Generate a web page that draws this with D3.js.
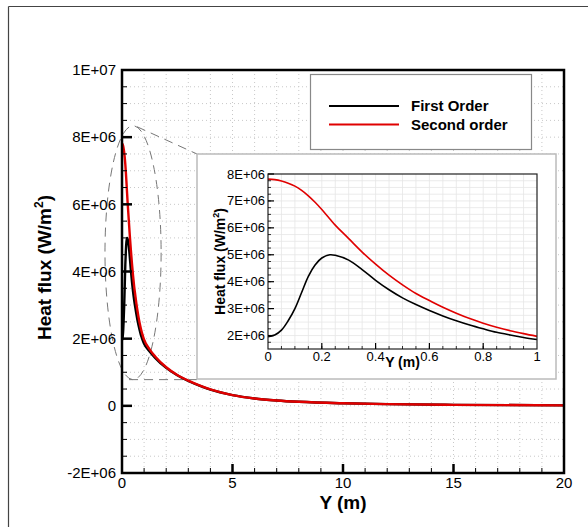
<!DOCTYPE html>
<html>
<head>
<meta charset="utf-8">
<script src="https://cdn.jsdelivr.net/npm/d3@7"></script>
<style>
  html, body { margin: 0; padding: 0; background: #fff; }
  svg { display: block; font-family: "Liberation Sans", Arial, sans-serif; }
</style>
</head>
<body>
<svg id="chart" width="588" height="527"></svg>
<script>
// Near-wall region, Y in metres (shared by both schemes)
const nearY = [0, 0.025, 0.05, 0.075, 0.1, 0.125, 0.15, 0.175, 0.2, 0.23, 0.25, 0.3, 0.35, 0.4, 0.45, 0.5,
               0.55, 0.6, 0.65, 0.7, 0.75, 0.8, 0.85, 0.9, 0.95, 1.0];
// Heat flux, units of 1E6 W/m^2
const firstNear  = [1.96, 2.02, 2.2, 2.55, 3.0, 3.6, 4.2, 4.62, 4.88, 5.0, 4.98, 4.8, 4.45, 4.05, 3.7, 3.4,
                    3.15, 2.93, 2.73, 2.55, 2.39, 2.25, 2.12, 2.02, 1.93, 1.85];
const secondNear = [7.81, 7.79, 7.74, 7.66, 7.55, 7.39, 7.19, 6.95, 6.68, 6.33, 6.1, 5.6, 5.1, 4.65, 4.24, 3.88,
                    3.56, 3.3, 3.05, 2.83, 2.63, 2.46, 2.31, 2.18, 2.07, 1.97];

// Far field, Y in metres
const farY       = [1.25, 1.5, 2, 2.5, 3, 3.5, 4, 5, 6, 7, 8, 10, 12, 15, 20];
const firstFar   = [1.62, 1.43, 1.13, 0.91, 0.74, 0.6, 0.48, 0.32, 0.22, 0.16, 0.12, 0.075, 0.05, 0.03, 0.015];
const secondFar  = [1.68, 1.47, 1.15, 0.92, 0.75, 0.61, 0.49, 0.32, 0.22, 0.16, 0.12, 0.075, 0.05, 0.03, 0.015];

const seriesNames  = ["First Order", "Second order"];
const seriesColors = ["#000000", "#e00000"];

const mainXTicks = [0, 5, 10, 15, 20];
const mainYTicks = [-2e6, 0, 2e6, 4e6, 6e6, 8e6, 1e7];
const mainYLabels = ["-2E+06", "0", "2E+06", "4E+06", "6E+06", "8E+06", "1E+07"];
const insetXTicks = [0, 0.2, 0.4, 0.6, 0.8, 1];
const insetXLabels = ["0", "0.2", "0.4", "0.6", "0.8", "1"];
const insetYTicks = [2e6, 3e6, 4e6, 5e6, 6e6, 7e6, 8e6];
const insetYLabels = ["2E+06", "3E+06", "4E+06", "5E+06", "6E+06", "7E+06", "8E+06"];

// Magnified region outline (centre and radii in data units)
const zoomCentre = [0.5, 4.56e6];
const zoomRadii  = [1.27, 3.78e6];

const toPts = (xs, ys) => xs.map((x, i) => [x, ys[i] * 1e6]);
const seriesNear = [toPts(nearY, firstNear), toPts(nearY, secondNear)];
const seriesAll  = [toPts(nearY.concat(farY), firstNear.concat(firstFar)),
                    toPts(nearY.concat(farY), secondNear.concat(secondFar))];

const svg = d3.select("#chart");

// outer frame (top and left edges)
svg.append("line").attr("x1", 8.5).attr("x2", 588).attr("y1", 6.5).attr("y2", 6.5)
  .attr("stroke", "#444").attr("stroke-width", 1.2);
svg.append("line").attr("x1", 8.5).attr("x2", 8.5).attr("y1", 6.5).attr("y2", 527)
  .attr("stroke", "#444").attr("stroke-width", 1.2);

// ---------- main plot ----------
const M = { left: 122, right: 564, top: 70, bottom: 473 };
const x = d3.scaleLinear().domain([0, 20]).range([M.left, M.right]);
const y = d3.scaleLinear().domain([-2e6, 1e7]).range([M.bottom, M.top]);

const g = svg.append("g");

// dotted grid at every minor division
const gridX = d3.range(1, 20, 1);
const gridY = d3.range(-1.5e6, 1e7, 5e5);
g.append("g").selectAll("line").data(gridX).join("line")
  .attr("x1", d => x(d)).attr("x2", d => x(d)).attr("y1", M.top).attr("y2", M.bottom)
  .attr("stroke", "#c8c8c8").attr("stroke-width", 1).attr("stroke-dasharray", "1,3");
g.append("g").selectAll("line").data(gridY).join("line")
  .attr("x1", M.left).attr("x2", M.right).attr("y1", d => y(d)).attr("y2", d => y(d))
  .attr("stroke", "#c8c8c8").attr("stroke-width", 1).attr("stroke-dasharray", "1,3");

// zoom indicator: dashed outline and connector lines
const ell = g.append("g").attr("fill", "none").attr("stroke", "#777")
  .attr("stroke-width", 1).attr("stroke-dasharray", "9,6");

// inset box placement
const I = { left: 197, right: 556, top: 154, bottom: 379 };

const ecx = x(zoomCentre[0]), ecy = y(zoomCentre[1]);
const erx = x(zoomRadii[0]) - x(0), ery = y(0) - y(zoomRadii[1]);
ell.append("ellipse").attr("cx", ecx).attr("cy", ecy).attr("rx", erx).attr("ry", ery);
ell.append("line").attr("x1", ecx + 4).attr("y1", ecy - ery + 1).attr("x2", I.left).attr("y2", I.top);
ell.append("line").attr("x1", ecx - 4).attr("y1", ecy + ery).attr("x2", I.left).attr("y2", ecy + ery);

// curves
const line = d3.line().x(d => x(d[0])).y(d => y(d[1])).curve(d3.curveMonotoneX);
g.append("g").selectAll("path").data(seriesAll).join("path")
  .attr("d", line).attr("fill", "none")
  .attr("stroke", (d, i) => seriesColors[i]).attr("stroke-width", 2.4)
  .attr("stroke-linejoin", "round");

// axis box
g.append("rect").attr("x", M.left).attr("y", M.top)
  .attr("width", M.right - M.left).attr("height", M.bottom - M.top)
  .attr("fill", "none").attr("stroke", "#000").attr("stroke-width", 2.5);

// ticks (inward)
const yMinor = d3.range(-1.5e6, 1e7, 5e5).filter(v => Math.abs(v / 2e6 - Math.round(v / 2e6)) > 1e-6);
g.append("g").selectAll("line").data(yMinor).join("line")
  .attr("x1", M.left).attr("x2", M.left + 5).attr("y1", d => y(d)).attr("y2", d => y(d))
  .attr("stroke", "#000").attr("stroke-width", 1);
g.append("g").selectAll("line").data(mainYTicks.slice(1, -1)).join("line")
  .attr("x1", M.left).attr("x2", M.left + 10).attr("y1", d => y(d)).attr("y2", d => y(d))
  .attr("stroke", "#000").attr("stroke-width", 2.5);
const xMinor = d3.range(1, 20, 1).filter(v => v % 5 !== 0);
g.append("g").selectAll("line").data(xMinor).join("line")
  .attr("x1", d => x(d)).attr("x2", d => x(d)).attr("y1", M.bottom).attr("y2", M.bottom - 5)
  .attr("stroke", "#000").attr("stroke-width", 1);
g.append("g").selectAll("line").data(mainXTicks.slice(1, -1)).join("line")
  .attr("x1", d => x(d)).attr("x2", d => x(d)).attr("y1", M.bottom).attr("y2", M.bottom - 9)
  .attr("stroke", "#000").attr("stroke-width", 2.5);

// tick labels
g.append("g").selectAll("text").data(mainYTicks).join("text")
  .attr("x", M.left - 6).attr("y", d => y(d)).attr("dy", "0.35em")
  .attr("text-anchor", "end").attr("font-size", 15).attr("fill", "#000")
  .text((d, i) => mainYLabels[i]);
g.append("g").selectAll("text").data(mainXTicks).join("text")
  .attr("x", d => x(d)).attr("y", M.bottom + 10).attr("dy", "0.35em")
  .attr("text-anchor", "middle").attr("font-size", 15).attr("fill", "#000")
  .text(d => d);

// axis titles
g.append("text").attr("x", (M.left + M.right) / 2).attr("y", 509)
  .attr("text-anchor", "middle").attr("font-size", 19).attr("font-weight", "bold")
  .text("Y (m)");
const yt = g.append("text").attr("transform", `translate(51,${(M.top + M.bottom) / 2 - 4}) rotate(-90)`)
  .attr("text-anchor", "middle").attr("font-size", 19).attr("font-weight", "bold");
yt.append("tspan").text("Heat flux (W/m");
yt.append("tspan").attr("font-size", 12).attr("dy", -8).text("2");
yt.append("tspan").attr("dy", 8).text(")");

// legend
const L = { left: 310, top: 74, width: 221, height: 75 };
const leg = g.append("g");
leg.append("rect").attr("x", L.left + 0.5).attr("y", L.top + 0.5).attr("width", L.width).attr("height", L.height)
  .attr("fill", "#fff").attr("stroke", "#888").attr("stroke-width", 1.2);
seriesNames.forEach((name, i) => {
  const ly = 106 + i * 18.5;
  leg.append("line").attr("x1", 329).attr("x2", 399).attr("y1", ly).attr("y2", ly)
    .attr("stroke", seriesColors[i]).attr("stroke-width", 2);
  leg.append("text").attr("x", 411).attr("y", ly).attr("dy", "0.35em")
    .attr("font-size", 15).attr("font-weight", "bold").text(name);
});

// ---------- inset ----------
const ins = svg.append("g");
ins.append("rect").attr("x", I.left).attr("y", I.top)
  .attr("width", I.right - I.left).attr("height", I.bottom - I.top)
  .attr("fill", "#fff").attr("stroke", "#bbb").attr("stroke-width", 1.5);

const P = { left: 268, right: 537, top: 174, bottom: 349 };
const ix = d3.scaleLinear().domain([0, 1]).range([P.left, P.right]);
const iy = d3.scaleLinear().domain([1.5e6, 8e6]).range([P.bottom, P.top]);

const ixMinor = d3.range(0.05, 1, 0.05);
const iyMinor = d3.range(1.75e6, 8e6, 2.5e5);
ins.append("g").selectAll("line").data(ixMinor).join("line")
  .attr("x1", d => ix(d)).attr("x2", d => ix(d)).attr("y1", P.top).attr("y2", P.bottom)
  .attr("stroke", "#e6e6e6").attr("stroke-width", 0.8);
ins.append("g").selectAll("line").data(iyMinor).join("line")
  .attr("x1", P.left).attr("x2", P.right).attr("y1", d => iy(d)).attr("y2", d => iy(d))
  .attr("stroke", "#e6e6e6").attr("stroke-width", 0.8);

const iline = d3.line().x(d => ix(d[0])).y(d => iy(d[1])).curve(d3.curveCatmullRom.alpha(0.5));
ins.append("g").selectAll("path").data(seriesNear).join("path")
  .attr("d", iline).attr("fill", "none")
  .attr("stroke", (d, i) => seriesColors[i]).attr("stroke-width", 1.6);

ins.append("rect").attr("x", P.left).attr("y", P.top)
  .attr("width", P.right - P.left).attr("height", P.bottom - P.top)
  .attr("fill", "none").attr("stroke", "#222").attr("stroke-width", 1.2);

// inset ticks
ins.append("g").selectAll("line").data(ixMinor).join("line")
  .attr("x1", d => ix(d)).attr("x2", d => ix(d)).attr("y1", P.bottom).attr("y2", P.bottom - 3)
  .attr("stroke", "#000").attr("stroke-width", 0.8);
ins.append("g").selectAll("line").data(insetXTicks.slice(1, -1)).join("line")
  .attr("x1", d => ix(d)).attr("x2", d => ix(d)).attr("y1", P.bottom).attr("y2", P.bottom - 6)
  .attr("stroke", "#000").attr("stroke-width", 1.2);
ins.append("g").selectAll("line").data(iyMinor).join("line")
  .attr("x1", P.left).attr("x2", P.left + 3).attr("y1", d => iy(d)).attr("y2", d => iy(d))
  .attr("stroke", "#000").attr("stroke-width", 0.8);
ins.append("g").selectAll("line").data(insetYTicks).join("line")
  .attr("x1", P.left).attr("x2", P.left + 6).attr("y1", d => iy(d)).attr("y2", d => iy(d))
  .attr("stroke", "#000").attr("stroke-width", 1.2);

ins.append("g").selectAll("text").data(insetYTicks).join("text")
  .attr("x", P.left - 3).attr("y", d => iy(d)).attr("dy", "0.35em")
  .attr("text-anchor", "end").attr("font-size", 13).text((d, i) => insetYLabels[i]);
ins.append("g").selectAll("text").data(insetXTicks).join("text")
  .attr("x", d => ix(d)).attr("y", P.bottom + 7).attr("dy", "0.35em")
  .attr("text-anchor", "middle").attr("font-size", 13).text((d, i) => insetXLabels[i]);

ins.append("text").attr("x", ix(0.5)).attr("y", 367)
  .attr("text-anchor", "middle").attr("font-size", 14).attr("font-weight", "bold").text("Y (m)");
const iyt = ins.append("text").attr("transform", `translate(225,${(P.top + P.bottom) / 2}) rotate(-90)`)
  .attr("text-anchor", "middle").attr("font-size", 14).attr("font-weight", "bold");
iyt.append("tspan").text("Heat flux (W/m");
iyt.append("tspan").attr("font-size", 9).attr("dy", -6).text("2");
iyt.append("tspan").attr("dy", 6).text(")");
</script>
</body>
</html>
